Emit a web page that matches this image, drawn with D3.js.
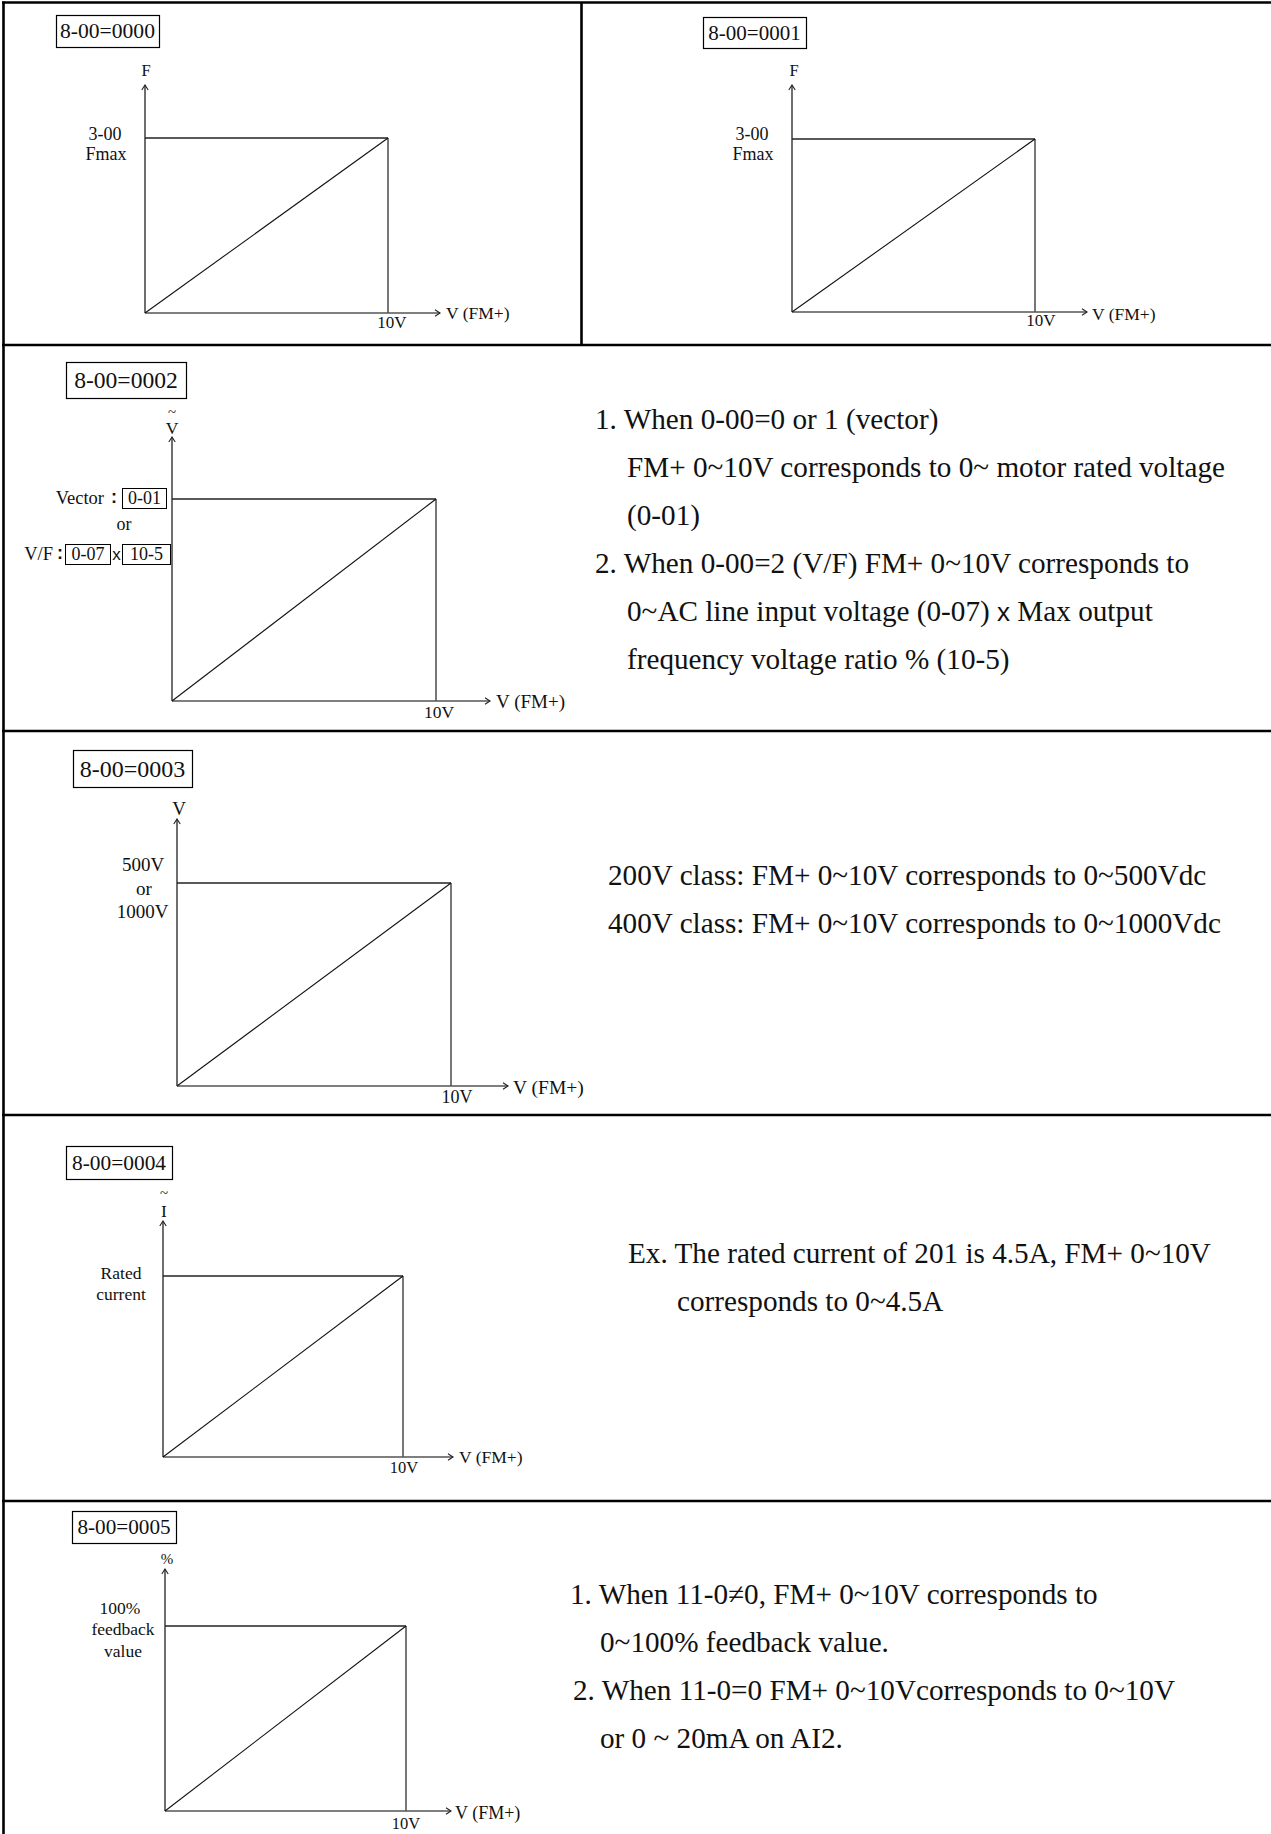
<!DOCTYPE html>
<html>
<head>
<meta charset="utf-8">
<script src="https://cdn.jsdelivr.net/npm/d3@7"></script>
<style>
  html, body { margin: 0; padding: 0; background: #fff; }
  svg { display: block; }
</style>
</head>
<body>
<div id="chart"></div>
<script>
// ---------------- data ----------------
const panelCodes = ["8-00=0000", "8-00=0001", "8-00=0002", "8-00=0003", "8-00=0004", "8-00=0005"];
const signalVolts = [0, 10];          // FM+ analog output, volts
const outputShare = [0, 1];           // share of the full-scale quantity
const xTickLabel = "10V";
const xAxisTitle = "V (FM+)";
const yAxisTitles = ["F", "F", "V", "V", "I", "%"];
const yAxisTilde = [false, false, true, false, true, false];
const yMaxLabels = [
  ["3-00", "Fmax"],
  ["3-00", "Fmax"],
  null,
  ["500V", "or", "1000V"],
  ["Rated", "current"],
  ["100%", "feedback", "value"]
];
const vectorLabel = ["Vector", "0-01"];
const vfLabel = ["V/F", "0-07", "x", "10-5"];
const notes0002 = [
  "1. When 0-00=0 or 1 (vector)",
  "FM+ 0~10V corresponds to 0~ motor rated voltage",
  "(0-01)",
  "2. When 0-00=2 (V/F) FM+ 0~10V corresponds to",
  ["0~AC line input voltage (0-07) ", "x", " Max output"],
  "frequency voltage ratio % (10-5)"
];
const notes0003 = [
  "200V class: FM+ 0~10V corresponds to 0~500Vdc",
  "400V class: FM+ 0~10V corresponds to 0~1000Vdc"
];
const notes0004 = [
  "Ex. The rated current of 201 is 4.5A, FM+ 0~10V",
  "corresponds to 0~4.5A"
];
const notes0005 = [
  "1. When 11-0\u22600, FM+ 0~10V corresponds to",
  "0~100% feedback value.",
  "2. When 11-0=0 FM+ 0~10Vcorresponds to 0~10V",
  "or 0 ~ 20mA on AI2."
];

// ---------------- layout (positions / sizes only) ----------------
const W = 1271, H = 1834;
const SERIF = "'Liberation Serif', 'Times New Roman', serif";
const SANS = "'Liberation Sans', Arial, sans-serif";

const layout = [
  {ox:145, oy:313, xe:388, yt:138, ax:440, ay:85, box:[56,15,103,32], boxFs:21.6,
   yT:[146,76,16.5], yL:{xs:[105,106], ys:[140,160], fs:18},
   tick:[392,328,17], xt:[446,319,17.5]},
  {ox:792, oy:312, xe:1035, yt:139, ax:1087, ay:85, box:[703,17,103,31], boxFs:21,
   yT:[794,76,16.5], yL:{xs:[752,753], ys:[140,160], fs:18},
   tick:[1041,326,17], xt:[1092,320,17.5]},
  {ox:172, oy:701, xe:436, yt:499, ax:490, ay:437, box:[66,362,120,36], boxFs:23.6,
   yT:[172,434,17.5], tilde:417,
   tick:[439,718,17.5], xt:[496,708,19]},
  {ox:177, oy:1086, xe:451, yt:883, ax:508, ay:819, box:[73,750,119,37], boxFs:24,
   yT:[179,815,19], yL:{xs:[143,144,142.5], ys:[871,895,918], fs:19},
   tick:[457,1103,18], xt:[513,1094,19.5]},
  {ox:163, oy:1457, xe:403, yt:1276, ax:453, ay:1221, box:[66,1146,106,33], boxFs:21.4,
   yT:[164,1217,17.5], tilde:1198, yL:{xs:[121,121], ys:[1279,1300], fs:17.5},
   tick:[404,1473,16.5], xt:[459,1463,17.5]},
  {ox:165, oy:1811, xe:406, yt:1626, ax:451, ay:1569, box:[72,1511,104,32], boxFs:21.2,
   yT:[167,1564,15], yL:{xs:[120,123,123], ys:[1614,1635,1657], fs:17.5},
   tick:[406,1829,16.5], xt:[455,1819,18]}
];

const noteLayout = [
  {lines: notes0002, xs:[595,627,627,595,627,627], y0:429, dy:48},
  {lines: notes0003, xs:[608,608], y0:885, dy:48},
  {lines: notes0004, xs:[628,677], y0:1263, dy:48},
  {lines: notes0005, xs:[570,600,573,600], y0:1604, dy:48}
];

// ---------------- drawing ----------------
const svg = d3.select("#chart").append("svg")
  .attr("width", W).attr("height", H)
  .attr("viewBox", `0 0 ${W} ${H}`);

svg.append("rect").attr("width", W).attr("height", H).attr("fill", "#fff");

// table frame
const frame = svg.append("g").attr("stroke", "#000").attr("stroke-width", 2.6).attr("fill", "none");
frame.append("line").attr("x1", 3.5).attr("x2", 3.5).attr("y1", 1.5).attr("y2", H);
frame.append("line").attr("x1", 2).attr("x2", W).attr("y1", 2.5).attr("y2", 2.5);
[345, 731, 1115, 1501].forEach(y =>
  frame.append("line").attr("x1", 2).attr("x2", W).attr("y1", y).attr("y2", y));
frame.append("line").attr("x1", 581.5).attr("x2", 581.5).attr("y1", 2).attr("y2", 345);

function txt(g, s, x, y, fs, anchor, family) {
  return g.append("text")
    .attr("x", x).attr("y", y)
    .attr("font-family", family || SERIF)
    .attr("font-size", fs)
    .attr("text-anchor", anchor || "start")
    .attr("fill", "#111")
    .text(s);
}

const pts = signalVolts.map((v, i) => ({v, s: outputShare[i]}));

layout.forEach((L, i) => {
  const g = svg.append("g");
  const x = d3.scaleLinear().domain([0, d3.max(signalVolts)]).range([L.ox, L.xe]);
  const y = d3.scaleLinear().domain([0, d3.max(outputShare)]).range([L.oy, L.yt]);

  // code box
  const [bx, by, bw, bh] = L.box;
  g.append("rect").attr("x", bx + 0.5).attr("y", by + 0.5).attr("width", bw).attr("height", bh)
    .attr("fill", "none").attr("stroke", "#000").attr("stroke-width", 1.2);
  txt(g, panelCodes[i], bx + bw / 2, by + bh / 2 + L.boxFs * 0.34, L.boxFs, "middle");

  // axes
  const axisCol = "#555";
  g.append("line").attr("x1", x(0)).attr("x2", L.ax).attr("y1", y(0)).attr("y2", y(0))
    .attr("stroke", axisCol).attr("stroke-width", 1.7);
  g.append("line").attr("x1", x(0)).attr("x2", x(0)).attr("y1", y(0)).attr("y2", L.ay)
    .attr("stroke", axisCol).attr("stroke-width", 1.7);
  // arrowheads
  g.append("path").attr("d", `M${L.ax - 5},${y(0) - 3.2}L${L.ax},${y(0)}L${L.ax - 5},${y(0) + 3.2}`)
    .attr("fill", "none").attr("stroke", "#222").attr("stroke-width", 1.1);
  g.append("path").attr("d", `M${x(0) - 3.2},${L.ay + 5}L${x(0)},${L.ay}L${x(0) + 3.2},${L.ay + 5}`)
    .attr("fill", "none").attr("stroke", "#222").attr("stroke-width", 1.1);

  const vMax = d3.max(signalVolts), sMax = d3.max(outputShare);
  // full-scale guide lines
  g.append("line").attr("x1", x(0)).attr("x2", x(vMax)).attr("y1", y(sMax)).attr("y2", y(sMax))
    .attr("stroke", "#222").attr("stroke-width", 1.3);
  g.append("line").attr("x1", x(vMax)).attr("x2", x(vMax)).attr("y1", y(sMax)).attr("y2", y(0))
    .attr("stroke", axisCol).attr("stroke-width", 1.6);

  // proportional characteristic
  g.append("path").datum(pts)
    .attr("d", d3.line().x(d => x(d.v)).y(d => y(d.s)))
    .attr("fill", "none").attr("stroke", "#111").attr("stroke-width", 1.1);

  // axis texts
  txt(g, yAxisTitles[i], L.yT[0], L.yT[1], L.yT[2], "middle");
  if (yAxisTilde[i]) txt(g, "~", L.yT[0], L.tilde, 15, "middle");
  txt(g, xTickLabel, L.tick[0], L.tick[1], L.tick[2], "middle");
  txt(g, xAxisTitle, L.xt[0], L.xt[1], L.xt[2], "start");

  if (yMaxLabels[i]) {
    yMaxLabels[i].forEach((s, k) => txt(g, s, L.yL.xs[k], L.yL.ys[k], L.yL.fs, "middle"));
  }

  if (i === 2) {
    // Vector : [0-01]   or   V/F : [0-07] x [10-5]
    txt(g, vectorLabel[0], 104, 504, 18.5, "end");
    txt(g, ":", 114, 503, 18, "middle", SANS).attr("font-weight", "bold");
    g.append("rect").attr("x", 122.5).attr("y", 488.5).attr("width", 44).attr("height", 20)
      .attr("fill", "none").attr("stroke", "#000").attr("stroke-width", 1);
    txt(g, vectorLabel[1], 144.5, 504, 18, "middle");
    txt(g, "or", 124, 530, 18, "middle");
    txt(g, vfLabel[0], 53, 560, 18.5, "end");
    txt(g, ":", 60, 559, 18, "middle", SANS).attr("font-weight", "bold");
    g.append("rect").attr("x", 65.5).attr("y", 544.5).attr("width", 45).attr("height", 20)
      .attr("fill", "none").attr("stroke", "#000").attr("stroke-width", 1);
    txt(g, vfLabel[1], 88, 560, 18, "middle");
    txt(g, vfLabel[2], 116.5, 560, 17, "middle", SANS);
    g.append("rect").attr("x", 122.5).attr("y", 544.5).attr("width", 48).attr("height", 20)
      .attr("fill", "none").attr("stroke", "#000").attr("stroke-width", 1);
    txt(g, vfLabel[3], 146.5, 560, 18, "middle");
  }
});

// explanatory notes
noteLayout.forEach(N => {
  const g = svg.append("g");
  N.lines.forEach((line, k) => {
    const t = g.append("text")
      .attr("x", N.xs[k]).attr("y", N.y0 + k * N.dy)
      .attr("font-family", SERIF).attr("font-size", 29.2).attr("fill", "#111");
    if (Array.isArray(line)) {
      t.append("tspan").text(line[0]);
      t.append("tspan").attr("font-family", SANS).attr("font-size", 26).text(line[1]);
      t.append("tspan").text(line[2]);
    } else {
      t.text(line);
    }
  });
});
</script>
</body>
</html>
